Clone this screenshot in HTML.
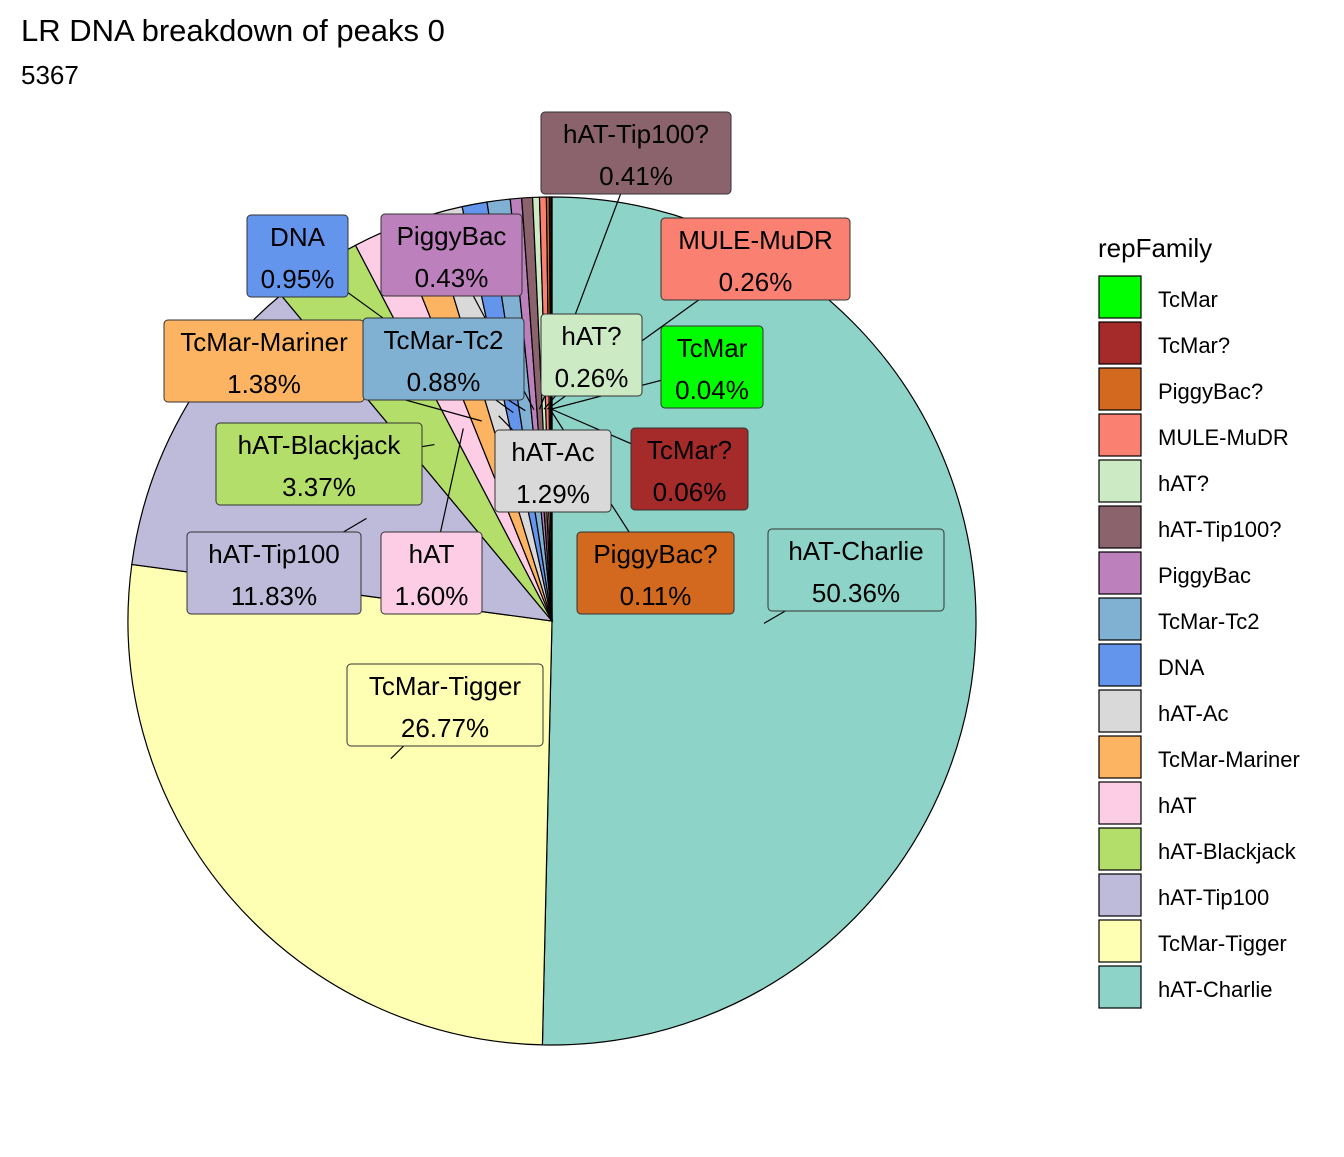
<!DOCTYPE html>
<html><head><meta charset="utf-8"><style>
body{margin:0;background:#fff;font-family:"Liberation Sans",Arial,sans-serif}
svg text{font-family:"Liberation Sans",Arial,sans-serif}
</style></head><body>
<svg id="c" width="1344" height="1152" viewBox="0 0 1344 1152">
<rect width="1344" height="1152" fill="#fff"/>
<text x="21" y="41" font-size="31" fill="#000">LR DNA breakdown of peaks 0</text>
<text x="21" y="84" font-size="26" fill="#000">5367</text>
<g id="slices"></g><g id="leaders"></g><g id="labels"></g>
<text x="1098" y="257" font-size="26" fill="#000">repFamily</text>
<g id="legend"></g>
</svg>
<script>
const categories=["hAT-Charlie","TcMar-Tigger","hAT-Tip100","hAT-Blackjack","hAT","TcMar-Mariner","hAT-Ac","DNA","TcMar-Tc2","PiggyBac","hAT-Tip100?","hAT?","MULE-MuDR","PiggyBac?","TcMar?","TcMar"];
const values=[50.36,26.77,11.83,3.37,1.60,1.38,1.29,0.95,0.88,0.43,0.41,0.26,0.26,0.11,0.06,0.04];
const colors=["#8DD3C7","#FFFFB3","#BEBADA","#B3DE69","#FCCDE5","#FDB462","#D9D9D9","#6495ED","#80B1D3","#BC80BD","#8B636C","#CCEBC5","#FA8072","#D2691E","#A52A2A","#00FF00"];
const boxes={"hAT-Tip100?":[541,112,190,82],"MULE-MuDR":[661,218,189,82],"DNA":[247,215,101,82],"PiggyBac":[381,214,141,82],"TcMar-Mariner":[164,320,200,82],"TcMar-Tc2":[363,318,161,82],"hAT?":[541,314,101,82],"TcMar":[661,326,102,82],"hAT-Blackjack":[216,423,206,82],"hAT-Ac":[495,430,116,82],"TcMar?":[631,428,117,82],"hAT-Tip100":[187,532,174,82],"hAT":[381,532,101,82],"PiggyBac?":[577,532,157,82],"hAT-Charlie":[768,529,176,82],"TcMar-Tigger":[347,664,196,82]};
const cx=552,cy=621,R=424,NS="http://www.w3.org/2000/svg";
const total=values.reduce((a,b)=>a+b,0);
function pt(a,r){return [cx+r*Math.sin(a),cy-r*Math.cos(a)];}
function mk(t,attrs,parent){const e=document.createElementNS(NS,t);for(const k in attrs)e.setAttribute(k,attrs[k]);parent.appendChild(e);return e;}
const gS=document.getElementById('slices'),gL=document.getElementById('leaders'),gB=document.getElementById('labels'),gG=document.getElementById('legend');
let acc=0;
values.forEach((v,i)=>{
  const a0=acc/total*2*Math.PI;acc+=v;const a1=acc/total*2*Math.PI;
  const p0=pt(a0,R),p1=pt(a1,R);const large=(a1-a0)>Math.PI?1:0;
  const p=mk('path',{d:`M${cx},${cy}L${p0[0]},${p0[1]}A${R},${R} 0 ${large} 1 ${p1[0]},${p1[1]}Z`,fill:colors[i],stroke:'#000','stroke-width':1.2},gS);
  
  
  const b=boxes[categories[i]];
  if(b){
    const am=(a0+a1)/2,an=pt(am,R/2);
    const ln=mk('line',{x1:an[0],y1:an[1],x2:b[0]+b[2]/2,y2:b[1]+b[3]/2,stroke:'#000','stroke-width':1.2},gL);
    
    
    const g=mk('g',{},gB);
    
    
    mk('rect',{x:b[0],y:b[1],width:b[2],height:b[3],rx:4,fill:colors[i],stroke:'#333','stroke-width':1},g);
    const t1=mk('text',{x:b[0]+b[2]/2,y:b[1]+31,'font-size':26,'text-anchor':'middle',fill:'#000'},g);t1.textContent=categories[i];
    const t2=mk('text',{x:b[0]+b[2]/2,y:b[1]+73,'font-size':26,'text-anchor':'middle',fill:'#000'},g);t2.textContent=v.toFixed(2)+'%';
  }
});
categories.slice().reverse().forEach((c,j)=>{
  const i=categories.length-1-j,y=276+j*46;
  const g=mk('g',{},gG);
  
  
  mk('rect',{x:1099,y:y,width:42,height:42,fill:colors[i],stroke:'#000','stroke-width':1.2},g);
  const t=mk('text',{x:1158,y:y+31,'font-size':22,fill:'#000'},g);t.textContent=c;
});
</script>
</body></html>
